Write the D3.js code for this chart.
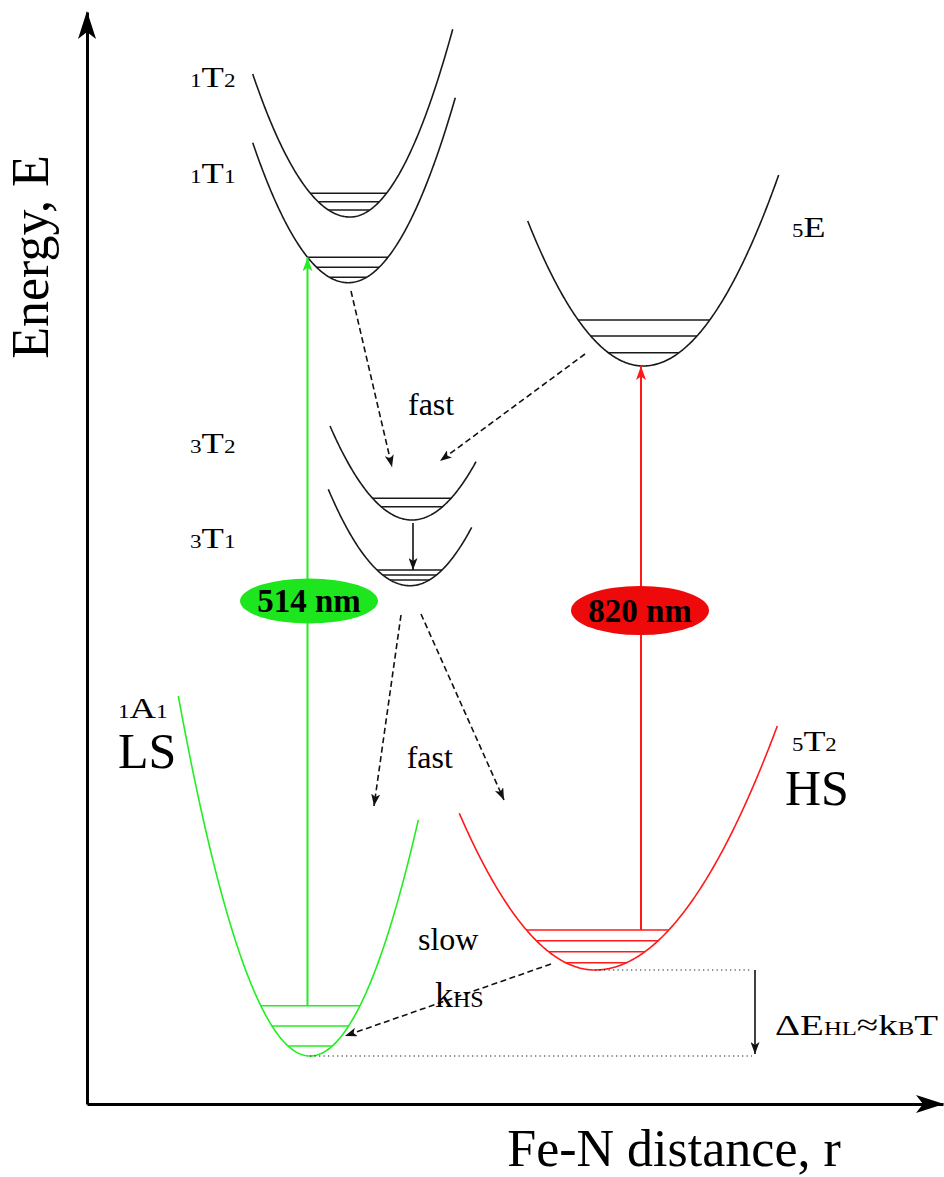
<!DOCTYPE html>
<html><head><meta charset="utf-8">
<script src="https://cdn.jsdelivr.net/npm/d3@7"></script>
<style>
body{margin:0;background:#fff}
text{font-family:"Liberation Serif","Times New Roman",serif;fill:#000}
</style>
</head><body><svg id="c" width="944" height="1177"></svg>
<script>
// ---------- DATA (arbitrary units: r = Fe-N distance, E = energy) ----------
const curveNames    = ["1T2","1T1","5E","3T2","3T1","1A1","5T2"];
const curveMin      = [[26.3,88.7],[26.13,82.13],[55.63,73.8],[32.5,58.4],[32.3,51.83],[22.3,4.8],[50.8,13.4]];
const curveLeftEnd  = [[16.57,103.0],[16.57,96.13],[44.07,88.3],[24.3,67.8],[24.13,61.47],[9.13,40.8],[37.23,29.07]];
const curveRightEnd = [[36.57,107.47],[36.83,100.63],[69.17,92.9],[38.9,64.23],[38.47,57.67],[33.13,28.4],[69.03,37.8]];
const curveLevels   = [[2.37,1.53,0.7],[2.54,1.54,0.54],[4.6,3.0,1.33],[2.17,1.33],[1.57,1.07,0.57],[5.03,3.0,1.0],[4.0,2.93,1.83,0.73]];

// excitations (vertical, solid, coloured)
const pumpNames = ["514 nm","820 nm"];
const pumpR     = [22.05, 55.4];
const pumpFromE = [9.83, 17.4];
const pumpToE   = [84.67, 73.8];
const pumpLabelE= [50.3, 49.35];
const pumpLabelR= [22.2, 55.3];

// relaxation paths
const dashedFrom = [[26.4,81.3],[49.8,75.0],[31.4,48.9],[33.4,49.0],[46.4,14.0]];
const dashedTo   = [[30.5,63.7],[35.3,64.3],[28.7,29.8],[41.7,30.4],[25.8,6.8]];
const solidFrom  = [[32.6,58.1],[66.8,13.4]];
const solidTo    = [[32.6,53.4],[66.8,5.0]];
// dotted reference levels
const dottedE    = [13.4, 4.8];
const dottedFromR= [50.8, 22.3];
const dottedToR  = [66.5, 66.5];

// text labels: parts [text, role]
const labelParts = [
  [["1","s"],["T","b"],["2","s"]],
  [["1","s"],["T","b"],["1","s"]],
  [["5","s"],["E","b"]],
  [["3","s"],["T","b"],["2","s"]],
  [["3","s"],["T","b"],["1","s"]],
  [["1","s"],["A","b"],["1","s"]],
  [["LS","L"]],
  [["5","s"],["T","b"],["2","s"]],
  [["HS","L"]],
  [["fast","w"]],
  [["fast","w"]],
  [["slow","w"]],
  [["k","k"],["HS","ks"]],
  [["ΔE","b"],["HL","s"],["≈k","b"],["B","s"],["T","b"]]
];
const labelAt = [[10.3,101.67],[10.3,92.13],[70.5,86.7],[10.3,65.1],[10.3,55.6],[3.1,38.6],[3.1,33.6],
                 [70.5,35.3],[69.8,29.95],[32.1,68.9],[31.97,33.6],[33.1,15.4],[34.8,9.7],[68.8,6.9]];
const labelStretch = [1.22,1.22,1.2,1.22,1.22,1.22,1,1.2,1,1,1,1,1,1.3];
const xTitle = "Fe-N distance, r";
const yTitle = "Energy, E";

// ---------- STYLES ----------
const roleSize = {s:19,b:30,L:50,w:32,k:36,ks:24};
const curveColor = n => n==="1A1" ? "#22ee22" : n==="5T2" ? "#ff1a1a" : "#1a1a1a";
const pumpColor = ["#22ee22","#ff1a1a"];
const pumpFill  = ["#1ee61e","#ee0a0a"];

// ---------- SCALES ----------
const x = d3.scaleLinear().domain([0,85.6]).range([87,943]);
const y = d3.scaleLinear().domain([0,109.2]).range([1104,12]);
const svg = d3.select("#c");

// markers
const defs = svg.append("defs");
function marker(id,color,len,half){
  defs.append("marker").attr("id",id).attr("markerUnits","userSpaceOnUse")
    .attr("viewBox",`0 ${-half} ${len} ${2*half}`).attr("refX",len).attr("refY",0)
    .attr("markerWidth",len).attr("markerHeight",2*half).attr("orient","auto")
    .append("path").attr("d",`M0,${-half}L${len},0L0,${half}L${len*0.25},0Z`).attr("fill",color);
}
marker("arB","#111",12,4.5);
marker("arG",pumpColor[0],14,5);
marker("arR",pumpColor[1],14,5);

// ---------- AXES ----------
const xAxis = d3.axisBottom(x).tickValues([]).tickSizeOuter(0);
const yAxis = d3.axisLeft(y).tickValues([]).tickSizeOuter(0);
const gx = svg.append("g").attr("transform",`translate(0,${y(0)})`).call(xAxis);
const gy = svg.append("g").attr("transform",`translate(${x(0)},0)`).call(yAxis);
[gx,gy].forEach(g=>g.select(".domain").attr("stroke","#000").attr("stroke-width",3));
function axisHead(tx,ty,ang){
  svg.append("path").attr("d","M0,0L-28,-9L-21,0L-28,9Z").attr("fill","#000")
    .attr("transform",`translate(${tx},${ty}) rotate(${ang})`);
}
axisHead(x(85.6)+1,y(0),0);
axisHead(x(0),y(109.2)-1,-90);
svg.append("text").attr("x",x(58.7)).attr("y",1166).attr("font-size",52).attr("text-anchor","middle").text(xTitle);
svg.append("text").attr("transform",`translate(48,${y(84.7)}) rotate(-90)`).attr("font-size",52)
   .attr("text-anchor","middle").text(yTitle);

// ---------- WELLS ----------
const line = d3.line().x(d=>x(d[0])).y(d=>y(d[1]));
curveNames.forEach((n,i)=>{
  const [r0,E0]=curveMin[i],[rl,El]=curveLeftEnd[i],[rr,Er]=curveRightEnd[i];
  const kL=(El-E0)/((rl-r0)**2), kR=(Er-E0)/((rr-r0)**2);
  const f=r=>E0+(r<r0?kL:kR)*(r-r0)**2;
  const rs=d3.range(rl,rr,0.1).concat([rr]);
  const col=curveColor(n);
  svg.append("path").datum(rs.map(r=>[r,f(r)])).attr("d",line)
     .attr("fill","none").attr("stroke",col).attr("stroke-width",1.6);
  curveLevels[i].forEach(h=>{
    const a=r0-Math.sqrt(h/kL), b=r0+Math.sqrt(h/kR);
    svg.append("line").attr("x1",x(a)).attr("x2",x(b)).attr("y1",y(E0+h)).attr("y2",y(E0+h))
       .attr("stroke",col).attr("stroke-width",1.4);
  });
});

// dotted reference lines
dottedE.forEach((E,i)=>{
  svg.append("line").attr("x1",x(dottedFromR[i])).attr("x2",x(dottedToR[i]))
     .attr("y1",y(E)).attr("y2",y(E)).attr("stroke","#222").attr("stroke-width",1.2)
     .attr("stroke-dasharray","1.3,3.2");
});

// pump arrows
pumpNames.forEach((p,i)=>{
  svg.append("line").attr("x1",x(pumpR[i])).attr("x2",x(pumpR[i]))
     .attr("y1",y(pumpFromE[i])).attr("y2",y(pumpToE[i]))
     .attr("stroke",pumpColor[i]).attr("stroke-width",2)
     .attr("marker-end",`url(#${i?"arR":"arG"})`);
});
// dashed and solid arrows
dashedFrom.forEach((d,i)=>{
  svg.append("line").attr("x1",x(d[0])).attr("y1",y(d[1])).attr("x2",x(dashedTo[i][0])).attr("y2",y(dashedTo[i][1]))
     .attr("stroke","#111").attr("stroke-width",1.6).attr("stroke-dasharray","6,3.5").attr("marker-end","url(#arB)");
});
solidFrom.forEach((d,i)=>{
  svg.append("line").attr("x1",x(d[0])).attr("y1",y(d[1])).attr("x2",x(solidTo[i][0])).attr("y2",y(solidTo[i][1]))
     .attr("stroke","#111").attr("stroke-width",1.6).attr("marker-end","url(#arB)");
});

// pump labels
pumpNames.forEach((p,i)=>{
  const g=svg.append("g").attr("transform",`translate(${x(pumpLabelR[i])},${y(pumpLabelE[i])})`);
  g.append("ellipse").attr("rx",69).attr("ry",i?24.5:22.5).attr("fill",pumpFill[i]);
  g.append("text").attr("text-anchor","middle").attr("y",11).attr("font-size",33).attr("font-weight","bold").text(p);
});

// state & process labels
labelParts.forEach((parts,i)=>{
  const g=svg.append("g").attr("transform",`translate(${x(labelAt[i][0])},${y(labelAt[i][1])}) scale(${labelStretch[i]},1)`);
  const t=g.append("text");
  parts.forEach(([s,role])=>t.append("tspan").attr("font-size",roleSize[role]).text(s));
});
</script></body></html>
